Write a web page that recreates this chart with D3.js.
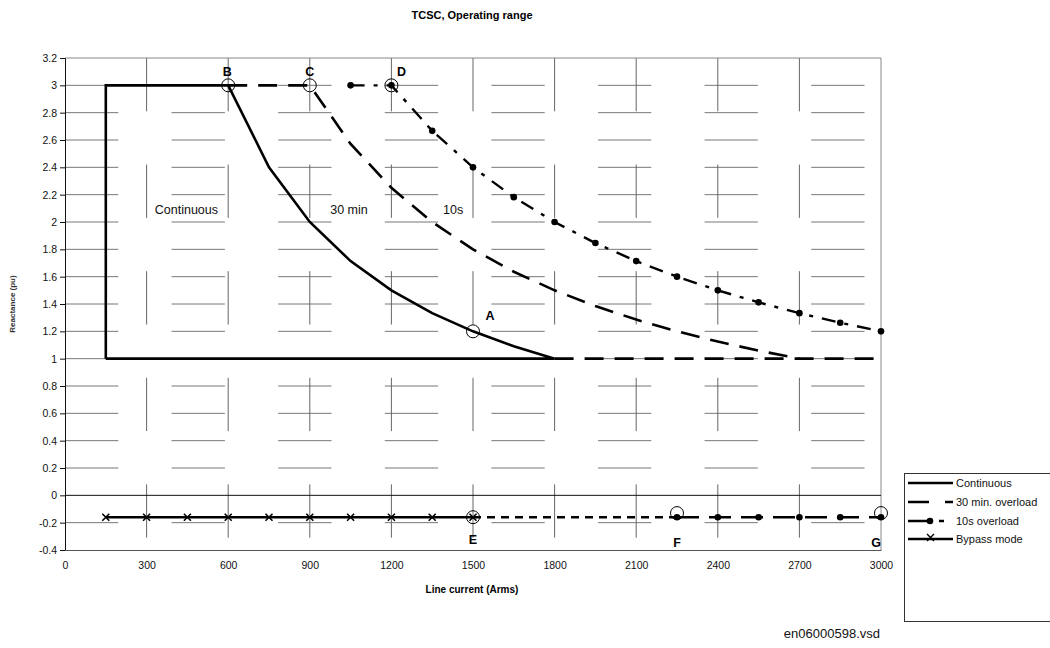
<!DOCTYPE html>
<html>
<head>
<meta charset="utf-8">
<script src="https://cdn.jsdelivr.net/npm/d3@7"></script>
<style>
body{margin:0;background:#fff;}
svg{font-family:"Liberation Sans",Arial,sans-serif;}
</style>
</head>
<body>
<svg id="c" width="1050" height="648"></svg>
<script>
// ---- data ----
const xTicks = [0,300,600,900,1200,1500,1800,2100,2400,2700,3000];
const yTicks = [-0.4,-0.2,0,0.2,0.4,0.6,0.8,1,1.2,1.4,1.6,1.8,2,2.2,2.4,2.6,2.8,3,3.2];
const yTickLabels = ["-0.4","-0.2","0","0.2","0.4","0.6","0.8","1","1.2","1.4","1.6","1.8","2","2.2","2.4","2.6","2.8","3","3.2"];

const contX = [150,150,600,750,900,1050,1200,1350,1500,1650,1800,150];
const contY = [1,3,3,2.4,2.0,1.714,1.5,1.333,1.2,1.091,1.0,1];

const min30X = [600,900,1050,1200,1350,1500,1650,1800,1950,2100,2250,2400,2550,2700];
const min30Y = [3,3,2.571,2.25,2.0,1.8,1.636,1.5,1.385,1.286,1.2,1.125,1.059,1.0];
const min30BaseX = [1800,3000];
const min30BaseY = [1,1];

const s10X = [1050,1200,1350,1500,1650,1800,1950,2100,2250,2400,2550,2700,2850,3000];
const s10Y = [3,3,2.667,2.4,2.182,2.0,1.846,1.714,1.6,1.5,1.412,1.333,1.263,1.2];

const bypassX = [150,300,450,600,750,900,1050,1200,1350,1500];
const bypassY = [-0.16,-0.16,-0.16,-0.16,-0.16,-0.16,-0.16,-0.16,-0.16,-0.16];
const bypassDashX = [1500,2250];
const bypassDashY = [-0.16,-0.16];
const s10BottomX = [2250,2400,2550,2700,2850,3000];
const s10BottomY = [-0.16,-0.16,-0.16,-0.16,-0.16,-0.16];

const pointNames = ["B","C","D","A","E","F","G"];
const pointX = [600,900,1200,1500,1500,2250,3000];
const pointY = [3,3,3,1.2,-0.16,-0.13,-0.13];

const regionNames = ["Continuous","30 min","10s"];
const regionX = [330,975,1390];
const regionY = [2.06,2.06,2.06];

const legendNames = ["Continuous","30 min. overload","10s overload","Bypass mode"];

// ---- layout ----
const svg = d3.select("#c");
const L=65, R=881, T=58, B=550;
const x = d3.scaleLinear().domain([0,3000]).range([L,R]);
const y = d3.scaleLinear().domain([-0.4,3.2]).range([B,T]);
const line = d3.line().x(d=>x(d[0])).y(d=>y(d[1]));
const zip = (a,b)=>a.map((v,i)=>[v,b[i]]);

// title
svg.append("text").attr("x",472).attr("y",19).attr("text-anchor","middle")
  .attr("font-size",11).attr("font-weight","bold").text("TCSC, Operating range");

// grid
const g = svg.append("g");
yTicks.filter(v=>v>-0.39 && v<3.19 && Math.abs(v)>1e-9).forEach(v=>{
  g.append("line").attr("x1",L).attr("x2",R).attr("y1",y(v)).attr("y2",y(v))
   .attr("stroke","#777").attr("stroke-width",1).attr("stroke-dasharray","53.3,53.3");
});
xTicks.filter(v=>v>0 && v<3000).forEach(v=>{
  g.append("line").attr("x1",x(v)).attr("x2",x(v)).attr("y1",T).attr("y2",B)
   .attr("stroke","#666").attr("stroke-width",1).attr("stroke-dasharray","53.3,53.3");
});
// border top/right
g.append("line").attr("x1",L).attr("x2",R).attr("y1",T).attr("y2",T).attr("stroke","#888");
g.append("line").attr("x1",R).attr("x2",R).attr("y1",T).attr("y2",B).attr("stroke","#888");
// zero line
g.append("line").attr("x1",L).attr("x2",R).attr("y1",y(0)).attr("y2",y(0)).attr("stroke","#111").attr("stroke-width",1);

// axes
const yAxis = d3.axisLeft(y).tickValues(yTicks).tickFormat((d,i)=>yTickLabels[i]).tickSize(5).tickPadding(3);
const ya = svg.append("g").attr("transform",`translate(${L},0)`).call(yAxis);
ya.selectAll("text").attr("font-size",10.5).attr("font-family","Liberation Sans, Arial").attr("fill","#111");
ya.select(".domain").attr("stroke","#111");
ya.selectAll(".tick line").attr("stroke","#111");

const xAxis = d3.axisBottom(x).tickValues(xTicks).tickFormat(d3.format("d")).tickSize(0).tickPadding(12);
const xa = svg.append("g").attr("transform",`translate(0,${B})`).call(xAxis);
xa.selectAll("text").attr("font-size",10.5).attr("font-family","Liberation Sans, Arial").attr("fill","#111");
xa.select(".domain").attr("stroke","#555");

svg.append("text").attr("x",472).attr("y",593).attr("text-anchor","middle")
  .attr("font-size",10).attr("font-weight","bold").text("Line current (Arms)");
svg.append("text").attr("transform",`translate(15,${(T+B)/2}) rotate(-90)`).attr("text-anchor","middle")
  .attr("font-size",8).attr("font-weight","bold").attr("fill","#333").text("Reactance (pu)");
svg.append("text").attr("x",880).attr("y",638).attr("text-anchor","end")
  .attr("font-size",13).attr("fill","#111").text("en06000598.vsd");

// series
const s = svg.append("g").attr("fill","none").attr("stroke","#000");
s.append("path").attr("d",line(zip(contX,contY))).attr("stroke-width",2.6).attr("stroke-linejoin","miter");
s.append("path").attr("d",line(zip(min30X,min30Y))).attr("stroke-width",2.6).attr("stroke-dasharray","19,11");
s.append("path").attr("d",line(zip(min30BaseX,min30BaseY))).attr("stroke-width",2.6).attr("stroke-dasharray","19,11");
s.append("path").attr("d",line(zip(s10X,s10Y))).attr("stroke-width",2.4).attr("stroke-dasharray","14,9,4,9");
s.append("path").attr("d",line(zip(bypassX,bypassY))).attr("stroke-width",2.6);
s.append("path").attr("d",line(zip(bypassDashX,bypassDashY))).attr("stroke-width",2.6).attr("stroke-dasharray","8,6");
s.append("path").attr("d",line(zip(s10BottomX,s10BottomY))).attr("stroke-width",2.6).attr("stroke-dasharray","22,10");

// markers
svg.append("g").selectAll("circle.d").data(zip(s10X,s10Y).concat(zip(s10BottomX,s10BottomY)))
  .join("circle").attr("cx",d=>x(d[0])).attr("cy",d=>y(d[1])).attr("r",3.3).attr("fill","#000");
const cross = svg.append("g").attr("stroke","#000").attr("stroke-width",1.6);
zip(bypassX,bypassY).forEach(d=>{
  const cx=x(d[0]), cy=y(d[1]);
  cross.append("path").attr("d",`M${cx-3.5},${cy-3.5}L${cx+3.5},${cy+3.5}M${cx-3.5},${cy+3.5}L${cx+3.5},${cy-3.5}`);
});

// labelled points
const lblOff = {B:[-1,-13],C:[0,-13],D:[10,-13],A:[17,-15],E:[0,23],F:[0,30],G:[-5,30]};
pointNames.forEach((n,i)=>{
  const cx=x(pointX[i]), cy=y(pointY[i]);
  svg.append("circle").attr("cx",cx).attr("cy",cy).attr("r",6.5).attr("fill","none").attr("stroke","#000").attr("stroke-width",1);
  svg.append("text").attr("x",cx+lblOff[n][0]).attr("y",cy+lblOff[n][1]+4).attr("text-anchor","middle")
    .attr("font-size",12.5).attr("font-weight","bold").text(n);
});

// region labels
regionNames.forEach((n,i)=>{
  svg.append("text").attr("x",x(regionX[i])).attr("y",y(regionY[i])).attr("font-size",12.5).attr("fill","#111").text(n);
});

// legend
const lg = svg.append("g");
lg.append("rect").attr("x",904.5).attr("y",473.5).attr("width",150).attr("height",148).attr("fill","#fff").attr("stroke","#333");
const ly = [483,502,521,539];
const lx1=908, lx2=953;
lg.append("line").attr("x1",lx1).attr("x2",lx2).attr("y1",ly[0]).attr("y2",ly[0]).attr("stroke","#000").attr("stroke-width",2.6);
lg.append("line").attr("x1",lx1).attr("x2",lx2).attr("y1",ly[1]).attr("y2",ly[1]).attr("stroke","#000").attr("stroke-width",2.6).attr("stroke-dasharray","21,16");
lg.append("line").attr("x1",lx1).attr("x2",lx2).attr("y1",ly[2]).attr("y2",ly[2]).attr("stroke","#000").attr("stroke-width",2.6).attr("stroke-dasharray","22,9,5,20");
lg.append("circle").attr("cx",930).attr("cy",ly[2]).attr("r",3.3).attr("fill","#000");
lg.append("line").attr("x1",lx1).attr("x2",lx2).attr("y1",ly[3]).attr("y2",ly[3]).attr("stroke","#000").attr("stroke-width",2.6);
lg.append("path").attr("d",`M927,${ly[3]-5}L934,${ly[3]+2}M927,${ly[3]+2}L934,${ly[3]-5}`).attr("stroke","#000").attr("stroke-width",1.4);
legendNames.forEach((n,i)=>{
  lg.append("text").attr("x",956).attr("y",ly[i]+4).attr("font-size",11).attr("fill","#111").text(n);
});
</script>
</body>
</html>
